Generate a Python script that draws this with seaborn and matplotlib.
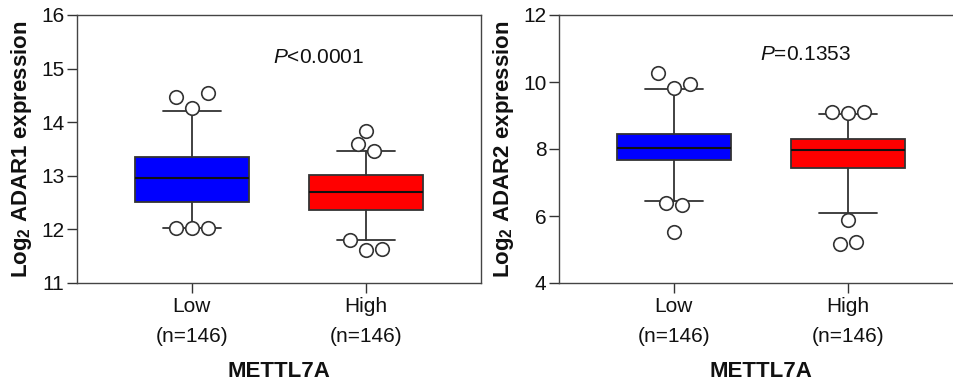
import numpy as np
import matplotlib
matplotlib.use("Agg")
import matplotlib.pyplot as plt
import seaborn as sns

# --- data ---
groups = ["Low", "High"]
n_counts = [146, 146]
box_colors = ["#0000FF", "#FF0000"]

# ADAR1 panel
adar1_median = [12.95, 12.69]
adar1_q1 = [12.51, 12.36]
adar1_q3 = [13.35, 13.02]
adar1_whislo = [12.03, 11.81]
adar1_whishi = [14.21, 13.46]
adar1_fliers = [[14.47, 14.26, 14.54, 12.03, 12.03, 12.03],
                [13.60, 13.83, 13.46, 11.80, 11.62, 11.63]]
adar1_pval = "<0.0001"

# ADAR2 panel
adar2_median = [8.02, 7.97]
adar2_q1 = [7.66, 7.44]
adar2_q3 = [8.46, 8.30]
adar2_whislo = [6.44, 6.10]
adar2_whishi = [9.80, 9.03]
adar2_fliers = [[10.27, 9.82, 9.95, 6.40, 6.33, 5.52],
                [9.09, 9.06, 9.09, 5.89, 5.15, 5.23]]
adar2_pval = "=0.1353"

# horizontal spreading of overlapping outliers (in "slot" units)
adar1_slots = [[-1, 0, 1, -1, 0, 1], [-0.5, 0, 0.5, -1, 0, 1]]
adar2_slots = [[-1, 0, 1, -0.5, 0.5, 0], [-1, 0, 1, 0, -0.5, 0.5]]
slot_w = 0.092

# --- style ---
sns.set_style("white")
plt.rcParams['font.family'] = ['Liberation Sans', 'DejaVu Sans']
plt.rcParams['mathtext.fontset'] = 'custom'
plt.rcParams['mathtext.rm'] = 'Liberation Sans'
plt.rcParams['mathtext.it'] = 'Liberation Sans:italic'
plt.rcParams['mathtext.bf'] = 'Liberation Sans:bold'
for k in ['text.color', 'axes.labelcolor', 'xtick.color', 'ytick.color']:
    plt.rcParams[k] = '#111111'

line_c = "#333333"

fig = plt.figure(figsize=(9.54, 3.87), dpi=100)
ax1 = fig.add_axes([77 / 954, 104 / 387, 404 / 954, 268 / 387])
ax2 = fig.add_axes([559 / 954, 104 / 387, 404 / 954, 268 / 387])


def draw_panel(ax, med, q1, q3, wlo, whi, fliers, slots, ylim, yticks, ylabel, ptxt, pxy):
    stats = []
    for i, g in enumerate(groups):
        stats.append(dict(med=med[i], q1=q1[i], q3=q3[i], whislo=wlo[i], whishi=whi[i],
                          fliers=[], label=g))
    pos = np.arange(len(groups))
    bp = ax.bxp(stats, positions=pos, widths=0.655, capwidths=0.33, patch_artist=True,
                showfliers=False,
                boxprops=dict(edgecolor=line_c, linewidth=1.3),
                whiskerprops=dict(color=line_c, linewidth=1.3),
                capprops=dict(color=line_c, linewidth=1.3),
                medianprops=dict(color="#111111", linewidth=1.5))
    for patch, c in zip(bp['boxes'], box_colors):
        patch.set_facecolor(c)
    for i in range(len(groups)):
        xs = pos[i] + np.array(slots[i]) * slot_w
        sns.scatterplot(x=xs, y=fliers[i], ax=ax, s=95, facecolor="white",
                        edgecolor=line_c, linewidth=1.2, zorder=5, legend=False)
    ax.set_xlim(-0.66, 1.66)
    ax.set_ylim(*ylim)
    ax.set_yticks(yticks)
    ax.set_xticks(pos)
    ax.set_xticklabels([f"{g}\n(n={n})" for g, n in zip(groups, n_counts)],
                       fontsize=15, linespacing=1.72)
    ax.tick_params(axis='y', labelsize=15)
    ax.tick_params(direction='out', length=7, width=1.0, color=line_c, pad=2,
                   left=True, bottom=True)
    ax.tick_params(axis='x', pad=3)
    for sp in ax.spines.values():
        sp.set_color("#444444")
        sp.set_linewidth(1.0)
    ax.set_xlabel("METTL7A", fontsize=16, fontweight='bold', labelpad=11)
    ax.set_ylabel(ylabel, fontsize=16, fontweight='bold', labelpad=5)
    ax.text(pxy[0], pxy[1], r"$\mathit{P}$" + ptxt, transform=ax.transAxes,
            fontsize=15, ha='center', va='center')


draw_panel(ax1, adar1_median, adar1_q1, adar1_q3, adar1_whislo, adar1_whishi,
           adar1_fliers, adar1_slots, (11, 16), [11, 12, 13, 14, 15, 16],
           r"Log$_\mathbf{2}$ ADAR1 expression", adar1_pval, (0.597, 0.843))
draw_panel(ax2, adar2_median, adar2_q1, adar2_q3, adar2_whislo, adar2_whishi,
           adar2_fliers, adar2_slots, (4, 12), [4, 6, 8, 10, 12],
           r"Log$_\mathbf{2}$ ADAR2 expression", adar2_pval, (0.61, 0.854))

fig.savefig("out.png", dpi=100)
